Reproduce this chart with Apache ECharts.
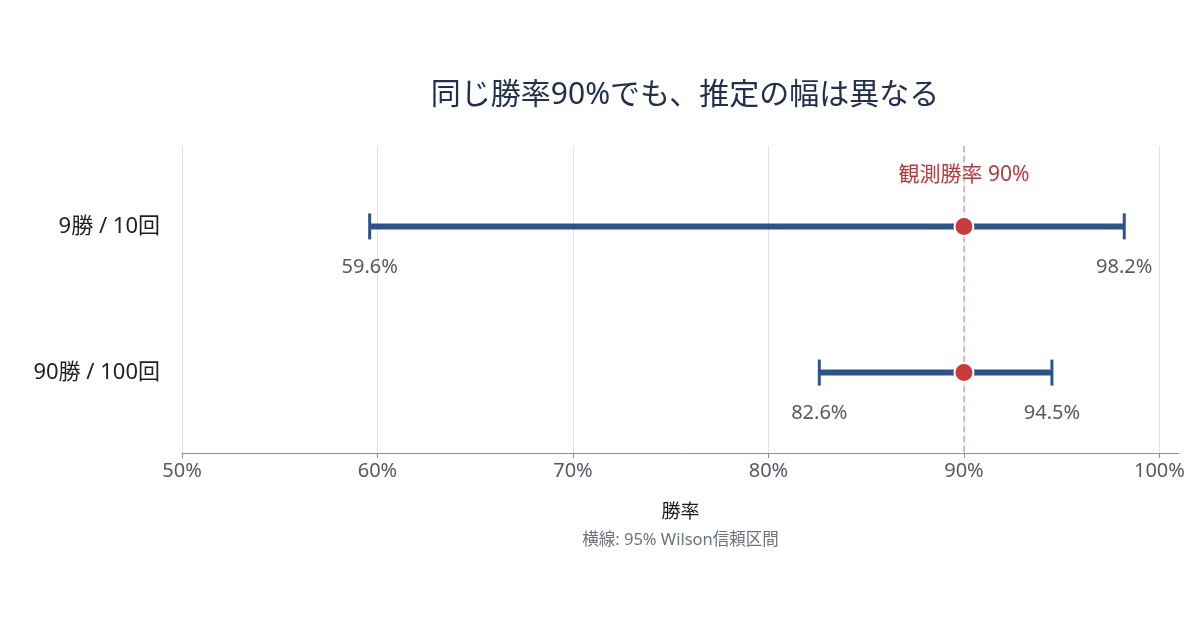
<!DOCTYPE html>
<html>
<head>
<meta charset="utf-8">
<script src="https://cdn.jsdelivr.net/npm/echarts@6/dist/echarts.min.js"></script>
<style>
  html, body { margin: 0; padding: 0; background: #fff; }
  #chart { width: 1200px; height: 630px; }
</style>
</head>
<body>
<div id="chart"></div>
<script>
const categories = ['9勝 / 10回', '90勝 / 100回']
const observed = [0.9, 0.9]
const lower = [0.596, 0.826]
const upper = [0.982, 0.945]
const referenceRate = 0.9
const xTicks = [0.5, 0.6, 0.7, 0.8, 0.9, 1.0]

const FONT = '"Noto Sans", "Noto Sans CJK JP", sans-serif'
const fmtPct = v => (v * 100).toFixed(1) + '%'

// y is the row index (0 = top row)
const intervalData = categories.map((c, i) => [lower[i], upper[i], i])
const pointData = categories.map((c, i) => [observed[i], i])
const endData = []
categories.forEach((c, i) => {
  endData.push([lower[i], i])
  endData.push([upper[i], i])
})

const chart = echarts.init(document.getElementById('chart'))

chart.setOption({
  backgroundColor: '#fff',
  textStyle: { fontFamily: FONT },
  title: {
    text: '同じ勝率90%でも、推定の幅は異なる',
    left: 680,
    textAlign: 'center',
    top: 75,
    textStyle: { fontSize: 30, fontWeight: 'normal', color: '#22304d', fontFamily: FONT },
  },
  grid: { left: 182, right: 21, top: 146, bottom: 177 },
  xAxis: {
    type: 'value',
    min: 0.5,
    max: 1.01,
    interval: 0.1,
    axisLine: { show: true, onZero: false, lineStyle: { color: '#8a8f9c', width: 1 } },
    axisTick: { show: true, length: 5, customValues: xTicks, lineStyle: { color: '#8a8f9c' } },
    axisLabel: {
      fontSize: 20, color: '#555a64', margin: 8, fontFamily: FONT,
      customValues: xTicks,
      formatter: v => Math.round(v * 100) + '%',
    },
    splitLine: { show: true, lineStyle: { color: '#dfe2ea', width: 1 } },
    name: '{main|勝率}\n{sub|横線: 95% Wilson信頼区間}',
    nameLocation: 'middle',
    nameGap: 45,
    nameTextStyle: {
      fontFamily: FONT,
      rich: {
        main: { fontSize: 19, color: '#1a1a1a', lineHeight: 29, fontFamily: FONT },
        sub: { fontSize: 16.5, color: '#6b7280', lineHeight: 26, fontFamily: FONT },
      },
    },
  },
  yAxis: {
    type: 'value',
    inverse: true,
    min: -0.55,
    max: 1.55,
    interval: 0.05,
    axisLine: { show: false },
    axisTick: { show: false },
    splitLine: { show: false },
    axisLabel: {
      fontSize: 22, color: '#1f1f1f', margin: 22, fontFamily: FONT,
      formatter: v => {
        const i = Math.round(v)
        return Math.abs(v - i) < 1e-6 && categories[i] ? categories[i] : ''
      },
    },
  },
  series: [
    {
      type: 'custom',
      name: 'CI',
      z: 3,
      data: intervalData,
      encode: { x: [0, 1], y: 2 },
      renderItem: (params, api) => {
        const p1 = api.coord([api.value(0), api.value(2)])
        const p2 = api.coord([api.value(1), api.value(2)])
        const cap = 13
        const style = { stroke: '#2f5288', lineWidth: 6 }
        const capStyle = { stroke: '#2f5288', lineWidth: 3 }
        return {
          type: 'group',
          children: [
            { type: 'line', shape: { x1: p1[0], y1: p1[1], x2: p2[0], y2: p2[1] }, style },
            { type: 'line', shape: { x1: p1[0], y1: p1[1] - cap, x2: p1[0], y2: p1[1] + cap }, style: capStyle },
            { type: 'line', shape: { x1: p2[0], y1: p2[1] - cap, x2: p2[0], y2: p2[1] + cap }, style: capStyle },
          ],
        }
      },
      markLine: {
        silent: true,
        symbol: 'none',
        lineStyle: { color: '#e3a3ab', type: [6, 4], width: 1.5 },
        label: {
          show: true,
          position: 'start',
          formatter: '観測勝率 90%',
          color: '#b53a3f',
          fontSize: 21,
          fontFamily: FONT,
          offset: [0, 45],
        },
        data: [{ xAxis: referenceRate }],
      },
    },
    {
      type: 'scatter',
      name: 'ends',
      z: 4,
      data: endData,
      symbolSize: 1,
      itemStyle: { color: 'transparent', opacity: 1 },
      label: {
        show: true,
        position: 'bottom',
        distance: 30,
        fontSize: 20,
        color: '#555a64',
        fontFamily: FONT,
        formatter: p => fmtPct(p.value[0]),
      },
    },
    {
      type: 'scatter',
      name: '観測勝率',
      z: 5,
      data: pointData,
      symbolSize: 19,
      itemStyle: { color: '#c93a3c', borderColor: '#fff', borderWidth: 2, opacity: 1 },
    },
  ],
})
</script>
</body>
</html>
